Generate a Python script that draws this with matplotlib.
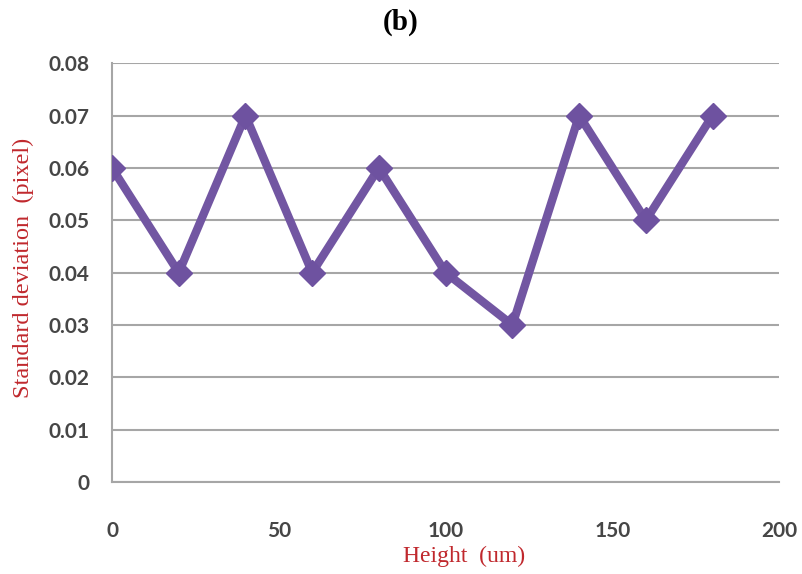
import matplotlib.pyplot as plt

heights = [0, 20, 40, 60, 80, 100, 120, 140, 160, 180]
std_dev = [0.06, 0.04, 0.07, 0.04, 0.06, 0.04, 0.03, 0.07, 0.05, 0.07]
y_ticks = [0, 0.01, 0.02, 0.03, 0.04, 0.05, 0.06, 0.07, 0.08]
y_labels = ['0', '0.01', '0.02', '0.03', '0.04', '0.05', '0.06', '0.07', '0.08']
x_ticks = [0, 50, 100, 150, 200]

fig = plt.figure(figsize=(8.03, 5.74), dpi=100)
ax = fig.add_axes([0.1395, 0.160, 0.831, 0.730])

ax.plot(heights, std_dev, color='#7256A2', linewidth=6, marker='D',
        markersize=13, markerfacecolor='#6E52A0', markeredgecolor='#6E52A0',
        solid_joinstyle='miter', zorder=3)

ax.set_xlim(0, 200)
ax.set_ylim(0, 0.08)
ax.set_yticks(y_ticks)
ax.set_yticklabels(y_labels)
ax.set_xticks(x_ticks)
ax.grid(axis='y', color='#A6A6A6', linewidth=1.5)
ax.set_axisbelow(True)

for s in ['top', 'right']:
    ax.spines[s].set_visible(False)
ax.spines['left'].set_color('#A6A6A6')
ax.spines['bottom'].set_color('#A6A6A6')
ax.spines['left'].set_linewidth(1.5)
ax.spines['bottom'].set_linewidth(1.5)

ax.tick_params(axis='both', length=0, labelcolor='#464646', labelsize=15)
ax.tick_params(axis='x', pad=28)
ax.tick_params(axis='y', pad=16)
for lbl in ax.get_xticklabels() + ax.get_yticklabels():
    lbl.set_fontfamily('Lato')
    lbl.set_fontweight('bold')

# axis titles placed by hand like the original
fig.text(464 / 803, 1 - 556 / 574, 'Height  (um)', ha='center', va='center',
         fontfamily='Liberation Serif', fontsize=17, color='#C0282D')
fig.text(23 / 803, 1 - 268 / 574, 'Standard deviation  (pixel)', ha='center',
         va='center', rotation=90, fontfamily='Liberation Serif',
         fontsize=17.5, color='#C0282D')

fig.text(401 / 803, 1 - 22 / 574, '(b)', ha='center', va='center',
         fontfamily='Liberation Serif', fontweight='bold', fontsize=21)

fig.savefig('out.png', dpi=100)
